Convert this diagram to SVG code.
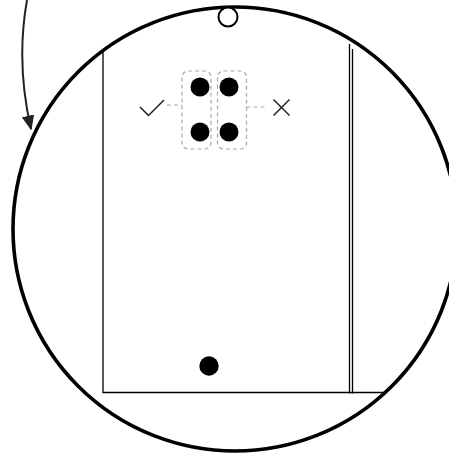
<svg xmlns="http://www.w3.org/2000/svg" width="449" height="454" viewBox="0 0 449 454">
<style>
.thin{fill:none;stroke:#000;stroke-width:1.3}
.dash{fill:none;stroke:#aaa;stroke-width:1.2;stroke-dasharray:4 3}
.dot{fill:#000}
.mark{fill:none;stroke:#222;stroke-width:1.5}
</style>
<defs>
<marker id="ah" viewBox="0 0 10 10" refX="9" refY="5" markerWidth="7.5" markerHeight="7.5" orient="auto" markerUnits="strokeWidth"><path d="M0,0.8 L10,5 L0,9.2 z" fill="#222"/></marker>
<clipPath id="cc"><circle cx="235" cy="229" r="221"/></clipPath>
</defs>
<rect width="449" height="454" fill="#fff"/>
<g id="plate">
<g clip-path="url(#cc)">
<path class="thin" d="M103 30 V392.5 H449"/>
</g>
<path class="thin" d="M349.5 44 V393.5 M352.5 49 V393.5"/>
<circle cx="235" cy="229" r="222" fill="none" stroke="#000" stroke-width="3.6"/>
<circle cx="228" cy="17" r="9.5" fill="#fff" stroke="#000" stroke-width="2"/>
</g>
<g id="dots">
<rect class="dash" x="182" y="71" width="29" height="78" rx="6"/>
<rect class="dash" x="217.5" y="71" width="29" height="78" rx="6"/>
<circle class="dot" cx="200" cy="87" r="9.5"/>
<circle class="dot" cx="229" cy="87" r="9.5"/>
<circle class="dot" cx="200" cy="132" r="9.5"/>
<circle class="dot" cx="229" cy="132" r="9.5"/>
</g>
<g id="check"><path class="mark" d="M140 107 L148.5 115.5 L164 100"/></g>
<g id="cross"><path class="mark" d="M273.5 99.5 L289.5 115.5 M289.5 99.5 L273.5 115.5"/></g>
<g id="bottom-dot"><circle class="dot" cx="209" cy="366" r="9.7"/></g>
<g id="connectors">
<path class="dash" d="M167 105 H182"/>
<path class="dash" d="M246.5 107 H265"/>
<path d="M27 0 C19 45 22 90 31 129" fill="none" stroke="#222" stroke-width="2" marker-end="url(#ah)"/>
</g>
</svg>
